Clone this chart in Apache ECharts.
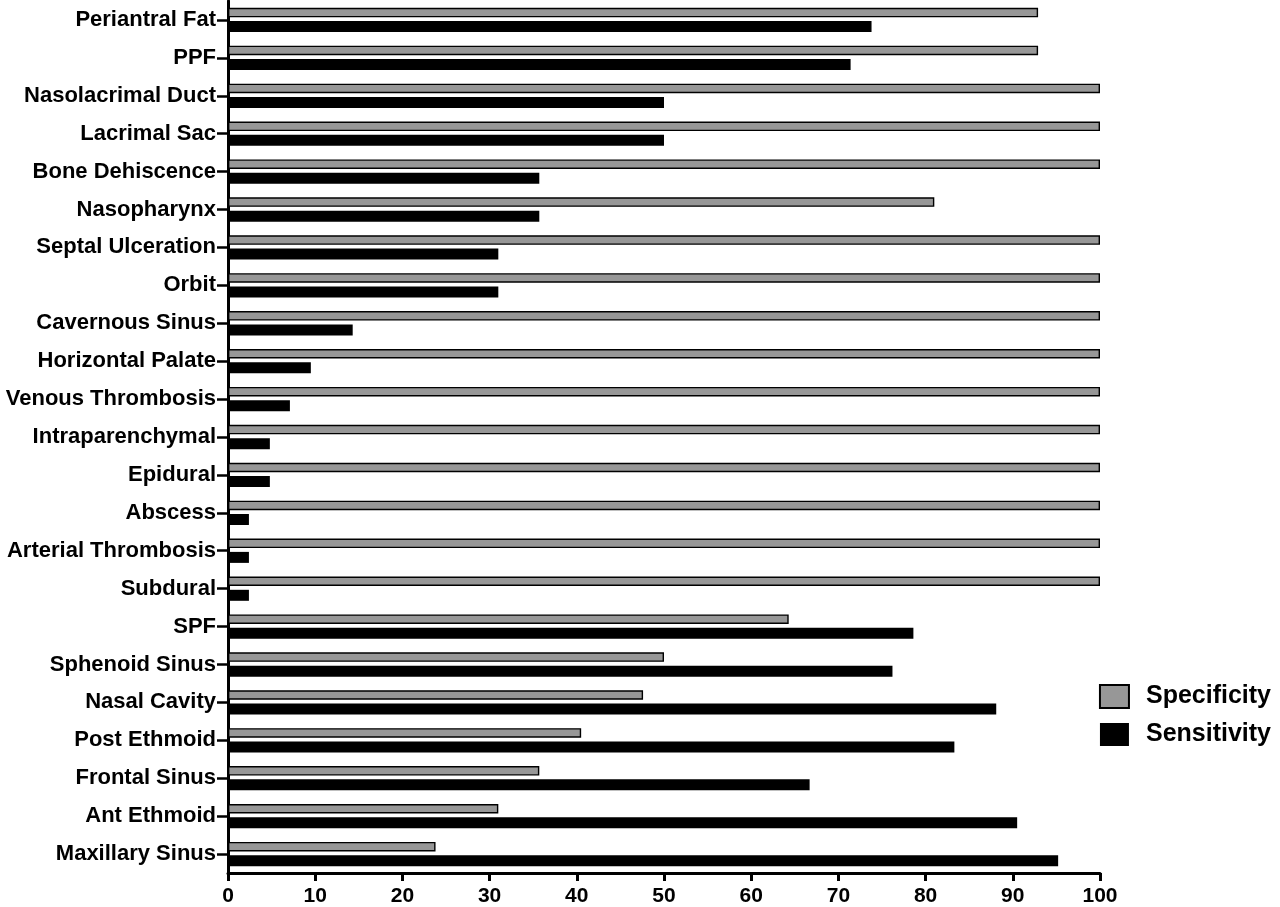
<!DOCTYPE html>
<html>
<head>
<meta charset="utf-8">
<script src="https://cdn.jsdelivr.net/npm/echarts@6/dist/echarts.min.js"></script>
<style>html,body{margin:0;padding:0;background:#fff}#chart{width:1280px;height:907px}</style>
</head>
<body>
<div id="chart"></div>
<script>
const categories = ["Periantral Fat","PPF","Nasolacrimal Duct","Lacrimal Sac","Bone Dehiscence","Nasopharynx","Septal Ulceration","Orbit","Cavernous Sinus","Horizontal Palate","Venous Thrombosis","Intraparenchymal","Epidural","Abscess","Arterial Thrombosis","Subdural","SPF","Sphenoid Sinus","Nasal Cavity","Post Ethmoid","Frontal Sinus","Ant Ethmoid","Maxillary Sinus"];
const specificity = [92.9,92.9,100,100,100,81,100,100,100,100,100,100,100,100,100,100,64.3,50,47.6,40.5,35.7,31,23.8];
const sensitivity = [73.8,71.4,50,50,35.7,35.7,31,31,14.3,9.5,7.1,4.8,4.8,2.4,2.4,2.4,78.6,76.2,88.1,83.3,66.7,90.5,95.2];
const xTicks = [0,10,20,30,40,50,60,70,80,90,100];

const FONT = "'Liberation Sans', Arial, Helvetica, sans-serif";
const chart = echarts.init(document.getElementById('chart'), null, {renderer:'canvas'});
chart.setOption({
  animation:false,
  backgroundColor:'#fff',
  grid:{left:228,right:180,top:1,bottom:34,containLabel:false},
  legend:{
    orient:'vertical', right:4, top:679, icon:'rect',
    itemWidth:29, itemHeight:23, itemGap:13,
    textStyle:{fontFamily:FONT,fontSize:25,fontWeight:'bold',color:'#000',padding:[0,0,0,12]},
    data:['Specificity','Sensitivity']
  },
  xAxis:{
    type:'value', min:xTicks[0], max:xTicks[xTicks.length-1], interval:10,
    splitLine:{show:false},
    axisLine:{show:true,lineStyle:{color:'#000',width:3}},
    axisTick:{show:true,length:8,lineStyle:{color:'#000',width:3}},
    axisLabel:{fontFamily:FONT,fontSize:21,fontWeight:'bold',color:'#000',margin:13}
  },
  yAxis:{
    type:'category', inverse:true, data:categories,
    axisLine:{show:true,lineStyle:{color:'#000',width:3}},
    axisTick:{show:true,alignWithLabel:true,length:11,lineStyle:{color:'#000',width:2.5}},
    axisLabel:{fontFamily:FONT,fontSize:22,fontWeight:'bold',color:'#000',margin:12}
  },
  series:[
    {name:'Specificity',type:'bar',data:specificity,barWidth:9.5,barGap:'40%',
     itemStyle:{color:'#979797',borderColor:'#000',borderWidth:1.4}},
    {name:'Sensitivity',type:'bar',data:sensitivity,barWidth:11,barGap:'40%',
     itemStyle:{color:'#000'}}
  ]
});
</script>
</body>
</html>
